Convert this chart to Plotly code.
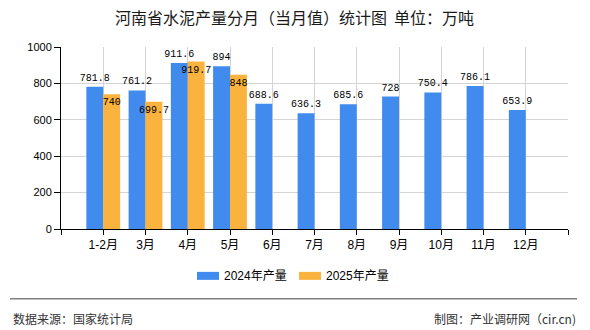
import plotly.graph_objects as go

# ---- data ----
months = ["1-2月", "3月", "4月", "5月", "6月", "7月", "8月", "9月", "10月", "11月", "12月"]
prod_2024 = [781.8, 761.2, 911.6, 894, 688.6, 636.3, 685.6, 728, 750.4, 786.1, 653.9]
prod_2025 = [740, 699.7, 919.7, 848]
y_ticks = [0, 200, 400, 600, 800, 1000]
series_names = ["2024年产量", "2025年产量"]
title_text = "河南省水泥产量分月（当月值）统计图  单位：万吨"
source_text = "数据来源：国家统计局"
credit_text = "制图：产业调研网（cir.cn)"

BLUE = "#418BEF"
ORANGE = "#FBB33F"
W, H = 590, 330
ML, MR, MT, MB = 61, 22, 46.5, 101
PW, PH = W - ML - MR, H - MT - MB

def px(x):
    return (x - ML) / PW

def py(y):
    return 1 - (y - MT) / PH

CJK = "Noto Sans CJK SC"
MONO = "Liberation Mono, Noto Sans CJK SC, monospace"
SANS = "Liberation Sans, Noto Sans CJK SC, sans-serif"

idx = list(range(len(months)))

fig = go.Figure()
fig.add_trace(go.Bar(
    x=idx, y=prod_2024, name=series_names[0], marker=dict(color=BLUE, line=dict(width=0)),
    text=[f"{v:g}" for v in prod_2024], textposition="outside", textangle=0,
    constraintext="none", cliponaxis=False,
    textfont=dict(family=MONO, size=10, color="#000000"), showlegend=False,
))
fig.add_trace(go.Bar(
    x=idx[:len(prod_2025)], y=prod_2025, name=series_names[1],
    marker=dict(color=ORANGE, line=dict(width=0)),
    text=[f"{v:g}" for v in prod_2025], textposition="inside", insidetextanchor="end",
    textangle=0, constraintext="none", cliponaxis=False,
    textfont=dict(family=MONO, size=10, color="#000000"), showlegend=False,
))

tickvals = [-1] + idx + [len(months)]
ticktext = [""] + months + [""]

fig.update_layout(
    width=W, height=H, autosize=False,
    margin=dict(l=ML, r=MR, t=MT, b=MB, pad=0),
    paper_bgcolor="white", plot_bgcolor="white",
    barmode="group", bargap=0.2, bargroupgap=0,
    showlegend=False,
    font=dict(family=SANS, color="#000000"),
    xaxis=dict(
        range=[-1, len(months)], tickmode="array", tickvals=tickvals, ticktext=ticktext,
        showgrid=True, gridcolor="#d4d4d4", gridwidth=1,
        showline=True, linecolor="#000000", linewidth=1,
        ticks="outside", ticklen=5, tickcolor="#000000",
        tickfont=dict(family=SANS, size=12, color="#000000"), zeroline=False,
    ),
    yaxis=dict(
        range=[0, 1000], tickmode="array", tickvals=y_ticks,
        showgrid=True, gridcolor="#d4d4d4", gridwidth=1,
        showline=True, linecolor="#000000", linewidth=1,
        ticks="outside", ticklen=6, tickcolor="#000000",
        tickfont=dict(family=SANS, size=11, color="#000000"), zeroline=False,
    ),
    title=dict(text=title_text, x=294.5 / W, xanchor="center", y=1 - 18 / H, yanchor="middle",
               font=dict(family=CJK, size=16, color="#1a1a1a")),
)

shapes = []
annotations = []
# legend
legend_items = [(197, BLUE, series_names[0]), (299, ORANGE, series_names[1])]
for x0, col, name in legend_items:
    shapes.append(dict(type="rect", xref="paper", yref="paper",
                       x0=px(x0), x1=px(x0 + 22), y0=py(280), y1=py(272),
                       fillcolor=col, line=dict(width=0)))
    annotations.append(dict(xref="paper", yref="paper", x=px(x0 + 25), y=py(276),
                            xanchor="left", yanchor="middle", showarrow=False, text=name,
                            font=dict(family=SANS, size=12, color="#000000")))
# footer line
shapes.append(dict(type="line", xref="paper", yref="paper", x0=px(10), x1=px(577),
                   y0=py(299), y1=py(299), line=dict(color="#808080", width=1.5)))
annotations.append(dict(xref="paper", yref="paper", x=px(11), y=py(319), xanchor="left",
                        yanchor="middle", showarrow=False, text=source_text,
                        font=dict(family=CJK, size=12, color="#333333")))
annotations.append(dict(xref="paper", yref="paper", x=px(578), y=py(319), xanchor="right",
                        yanchor="middle", showarrow=False, text=credit_text,
                        font=dict(family=CJK, size=12, color="#333333")))
fig.update_layout(shapes=shapes, annotations=annotations)

fig.write_html("out.html")
